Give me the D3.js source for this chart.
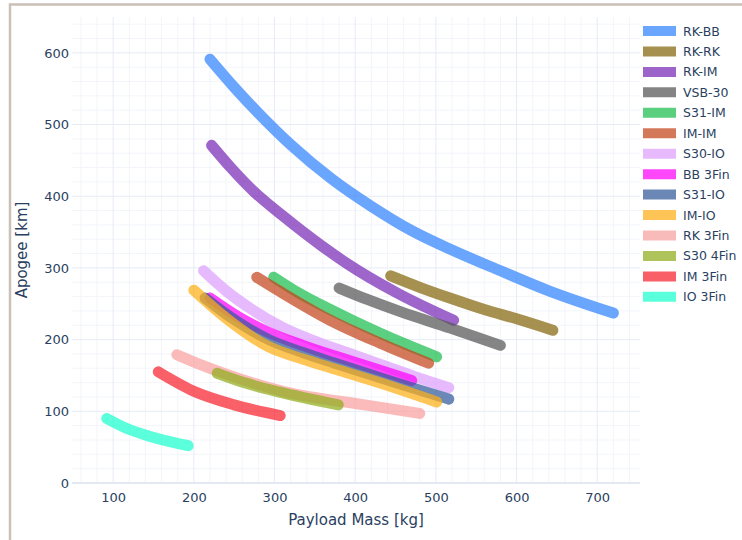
<!DOCTYPE html>
<html>
<head>
<meta charset="utf-8">
<script src="https://cdn.jsdelivr.net/npm/d3@7"></script>
<style>
  html, body { margin: 0; padding: 0; background: #fff; }
  svg { display: block; font-family: "DejaVu Sans", Verdana, sans-serif; }
</style>
</head>
<body>
<svg id="chart" width="742" height="540"></svg>
<script>
// Payload mass [kg] vs apogee [km] for each vehicle configuration.
const seriesNames = ["RK-BB", "RK-RK", "RK-IM", "VSB-30", "S31-IM", "IM-IM", "S30-IO",
  "BB 3Fin", "S31-IO", "IM-IO", "RK 3Fin", "S30 4Fin", "IM 3Fin", "IO 3Fin"];

const seriesColors = ["#3283FE", "#85660D", "#782AB6", "#565656", "#1CBE4F", "#C4451C", "#DEA0FD",
  "#FE00FA", "#325A9B", "#FEAF16", "#F8A19F", "#90AD1C", "#F6222E", "#1CFFCE"];

const rkBB   = [[220, 591], [250, 552], [280, 516], [320, 472], [370, 425], [420, 386], [470, 352], [520, 325], [580, 296], [640, 268], [720, 237]];
const rkRK   = [[444, 289], [480, 273], [520, 257], [560, 242], [600, 229], [645, 213]];
const rkIM   = [[222, 471], [245, 441], [274, 407], [311, 372], [357, 332], [390, 306], [452, 265], [522, 227]];
const vsb30  = [[380, 272], [415, 256], [456, 239], [518, 216], [580, 192]];
const s31IM  = [[299, 287], [330, 265], [369, 242], [400, 225], [431, 209], [466, 192], [501, 176]];
const imIM   = [[278, 287], [307, 267], [369, 227], [431, 195], [491, 167]];
const s30IO  = [[212, 296], [240, 268], [272, 242], [310, 217], [354, 196], [400, 178], [435, 164], [475, 148], [516, 133]];
const bb3Fin = [[220, 258], [255, 232], [293, 210], [335, 192], [375, 177], [420, 161], [470, 143]];
const s31IO  = [[214, 258], [250, 228], [293, 200], [335, 182], [375, 167], [450, 140], [516, 117]];
const imIO   = [[200, 269], [240, 230], [293, 190], [335, 173], [375, 159], [435, 138], [501, 113]];
const rk3Fin = [[179, 179], [189, 174], [250, 148], [313, 127], [412, 109], [480, 97]];
const s304Fin = [[229, 153], [265, 139], [305, 127], [379, 109]];
const im3Fin = [[156, 155], [200, 128], [250, 109], [307, 94]];
const io3Fin = [[92, 90], [117, 76], [146, 65], [193, 52]];

const seriesData = [rkBB, rkRK, rkIM, vsb30, s31IM, imIM, s30IO, bb3Fin, s31IO, imIO, rk3Fin, s304Fin, im3Fin, io3Fin];

const xMajorTicks = [100, 200, 300, 400, 500, 600, 700];
const yMajorTicks = [0, 100, 200, 300, 400, 500, 600];

const svg = d3.select("#chart");
const W = 742, H = 540;
const plot = { left: 72, right: 640, top: 17, bottom: 483 };
const inkColor = "#2a3f5f";

// screenshot frame
svg.append("path")
  .attr("d", `M10,${H} L10,4.5 L${W},4.5`)
  .attr("fill", "none")
  .attr("stroke", "#c9c0b7")
  .attr("stroke-width", 2.5);

const x = d3.scaleLinear().domain([49, 753]).range([plot.left, plot.right]);
const y = d3.scaleLinear().domain([0, 650]).range([plot.bottom, plot.top]);

const grid = svg.append("g");
// minor grid every 20
const xMinor = d3.range(60, 753, 20).filter(v => v % 100 !== 0);
const yMinor = d3.range(20, 650, 20).filter(v => v % 100 !== 0);
grid.selectAll(".xminor").data(xMinor).join("line")
  .attr("x1", d => x(d)).attr("x2", d => x(d))
  .attr("y1", plot.top).attr("y2", plot.bottom)
  .attr("stroke", "#f3f5fa").attr("stroke-width", 1);
grid.selectAll(".yminor").data(yMinor).join("line")
  .attr("y1", d => y(d)).attr("y2", d => y(d))
  .attr("x1", plot.left).attr("x2", plot.right)
  .attr("stroke", "#f3f5fa").attr("stroke-width", 1);
// major grid
grid.selectAll(".xmajor").data(xMajorTicks).join("line")
  .attr("x1", d => x(d)).attr("x2", d => x(d))
  .attr("y1", plot.top).attr("y2", plot.bottom)
  .attr("stroke", "#e6ebf5").attr("stroke-width", 1);
grid.selectAll(".ymajor").data(yMajorTicks.filter(v => v > 0)).join("line")
  .attr("y1", d => y(d)).attr("y2", d => y(d))
  .attr("x1", plot.left).attr("x2", plot.right)
  .attr("stroke", "#e6ebf5").attr("stroke-width", 1);
// zero line
grid.append("line")
  .attr("x1", plot.left).attr("x2", plot.right)
  .attr("y1", y(0)).attr("y2", y(0))
  .attr("stroke", "#e3e8f3").attr("stroke-width", 2);

// axes (labels only, no domain line or tick marks)
const xAxis = svg.append("g")
  .attr("transform", `translate(0,${plot.bottom})`)
  .call(d3.axisBottom(x).tickValues(xMajorTicks).tickSize(0).tickPadding(10));
const yAxis = svg.append("g")
  .attr("transform", `translate(${plot.left},0)`)
  .call(d3.axisLeft(y).tickValues(yMajorTicks).tickSize(0).tickPadding(3));
[xAxis, yAxis].forEach(a => {
  a.select(".domain").remove();
  a.selectAll("text")
    .attr("fill", inkColor)
    .style("font-family", '"DejaVu Sans", Verdana, sans-serif')
    .style("font-size", "13px");
});

svg.append("text")
  .attr("x", (plot.left + plot.right) / 2)
  .attr("y", 525)
  .attr("text-anchor", "middle")
  .attr("fill", inkColor)
  .style("font-size", "15px")
  .text("Payload Mass [kg]");

svg.append("text")
  .attr("transform", `translate(27,${(plot.top + plot.bottom) / 2}) rotate(-90)`)
  .attr("text-anchor", "middle")
  .attr("fill", inkColor)
  .style("font-size", "15px")
  .text("Apogee [km]");

// series lines
const line = d3.line()
  .x(d => x(d[0]))
  .y(d => y(d[1]))
  .curve(d3.curveMonotoneX);

const lineOpacity = 0.72;
const lines = svg.append("g");
seriesData.forEach((pts, i) => {
  lines.append("path")
    .attr("d", line(pts))
    .attr("fill", "none")
    .attr("stroke", seriesColors[i])
    .attr("stroke-width", 11)
    .attr("stroke-linecap", "round")
    .attr("stroke-linejoin", "round")
    .attr("opacity", lineOpacity);
});

// legend
const legend = svg.append("g");
const rowStep = 20.45;
seriesNames.forEach((name, i) => {
  const cy = 31 + i * rowStep;
  const item = legend.append("g").attr("opacity", lineOpacity);
  item.append("line")
    .attr("x1", 643).attr("x2", 676)
    .attr("y1", cy).attr("y2", cy)
    .attr("stroke", seriesColors[i])
    .attr("stroke-width", 10);
  legend.append("text")
    .attr("x", 683).attr("y", cy)
    .attr("dy", "0.36em")
    .attr("fill", inkColor)
    .style("font-size", "12.5px")
    .text(name);
});
</script>
</body>
</html>
